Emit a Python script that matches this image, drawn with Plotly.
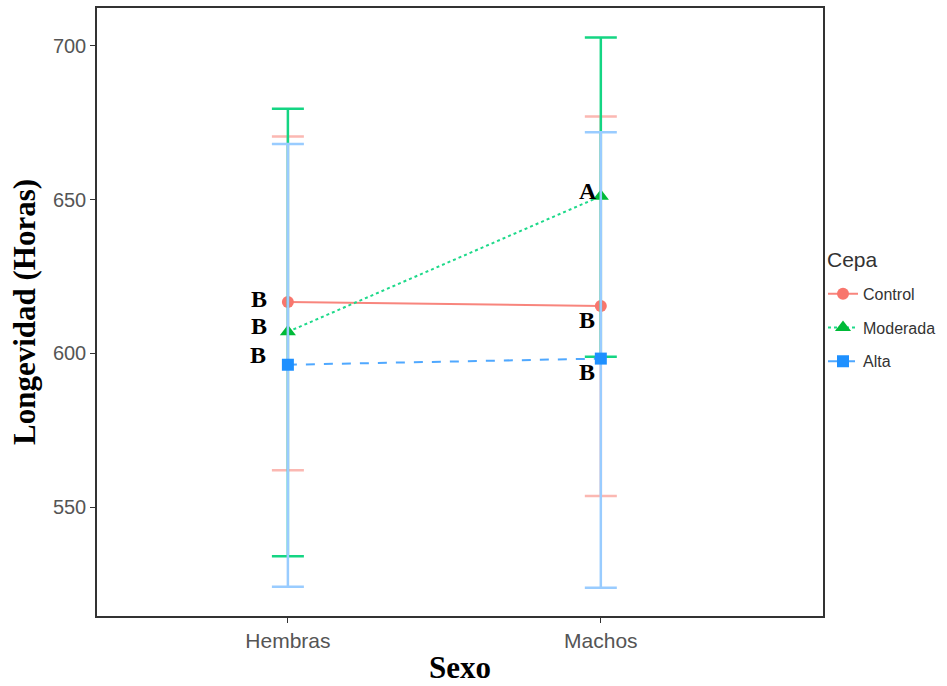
import plotly.graph_objects as go

sexo = ["Hembras", "Machos"]
x_pos = [1, 2]
cepas = ["Control", "Moderada", "Alta"]
means = {"Control": [616.7, 615.4], "Moderada": [607.0, 651.1], "Alta": [596.3, 598.3]}
upper = {"Control": [670.5, 677.0], "Moderada": [679.5, 702.7], "Alta": [668.1, 671.9]}
lower = {"Control": [562.0, 553.6], "Moderada": [534.0, 598.9], "Alta": [524.1, 523.8]}
letters = {"Control": ["B", "B"], "Moderada": ["B", "A"], "Alta": ["B", "B"]}
letter_y = {"Control": [617.7, 610.9], "Moderada": [609.0, 652.7], "Alta": [599.5, 594.0]}
letter_shift = {"Control": [-29, -14], "Moderada": [-29, -13], "Alta": [-30, -14]}

colors = {"Control": "#F8766D", "Moderada": "#00BA38", "Alta": "#1E90FF"}
line_colors = {"Control": "#F8857D", "Moderada": "#1ED98A", "Alta": "#4FA8FF"}
err_colors = {"Control": "#FBB8B2", "Moderada": "#14D583", "Alta": "#99CCFF"}
dashes = {"Control": "solid", "Moderada": "dot", "Alta": "dash"}
symbols = {"Control": "circle", "Moderada": "triangle-up", "Alta": "square"}
sizes = {"Control": 12, "Moderada": 14, "Alta": 12}

fig = go.Figure()
for c in cepas:
    m = means[c]
    fig.add_trace(go.Scatter(
        x=x_pos, y=m, name=c, mode="lines+markers", legendgroup=c,
        line=dict(color=line_colors[c], width=2, dash=dashes[c]),
        marker=dict(color=colors[c], symbol=symbols[c], size=sizes[c]),
        error_y=dict(type="data", symmetric=False,
                     array=[u - v for u, v in zip(upper[c], m)],
                     arrayminus=[v - l for v, l in zip(m, lower[c])],
                     color=err_colors[c], thickness=2.5, width=16),
    ))

annotations = []
for c in cepas:
    for i in range(2):
        annotations.append(dict(
            x=x_pos[i], y=letter_y[c][i], xref="x", yref="y", text="<b>%s</b>" % letters[c][i],
            showarrow=False, xshift=letter_shift[c][i],
            font=dict(family="Liberation Serif", size=24, color="black")))
annotations.append(dict(x=1.0, y=0.587, xref="paper", yref="paper", xanchor="left", yanchor="middle",
                        text="Cepa", showarrow=False, xshift=2,
                        font=dict(family="Arial, Liberation Sans", size=21, color="#333")))

fig.update_layout(
    width=947, height=686,
    paper_bgcolor="white", plot_bgcolor="white",
    margin=dict(l=97, r=124, t=6, b=70),
    annotations=annotations,
    showlegend=True,
    legend=dict(x=1.0, y=0.558, xanchor="left", yanchor="top",
                font=dict(family="Arial, Liberation Sans", size=16, color="#333"),
                tracegroupgap=10, itemwidth=30, bgcolor="rgba(0,0,0,0)"),
    xaxis=dict(range=[0.39, 2.71], tickvals=x_pos, ticktext=sexo,
               showgrid=False, zeroline=False, showline=True, mirror=True,
               linecolor="#333", linewidth=1.5, ticks="outside", ticklen=5, tickcolor="#333",
               tickfont=dict(family="Arial, Liberation Sans", size=21, color="#555"),
               title=dict(text="<b>Sexo</b>", font=dict(family="Liberation Serif", size=31, color="black"), standoff=5)),
    yaxis=dict(range=[514.6, 712.3], tickvals=[550, 600, 650, 700],
               showgrid=False, zeroline=False, showline=True, mirror=True,
               linecolor="#333", linewidth=1.5, ticks="outside", ticklen=5, tickcolor="#333",
               tickfont=dict(family="Arial, Liberation Sans", size=20, color="#555"),
               title=dict(text="<b>Longevidad (Horas)</b>", font=dict(family="Liberation Serif", size=31, color="black"), standoff=8)),
)

fig.write_html("out.html", config={"displayModeBar": False},
               post_script="document.body.style.margin='0';")
